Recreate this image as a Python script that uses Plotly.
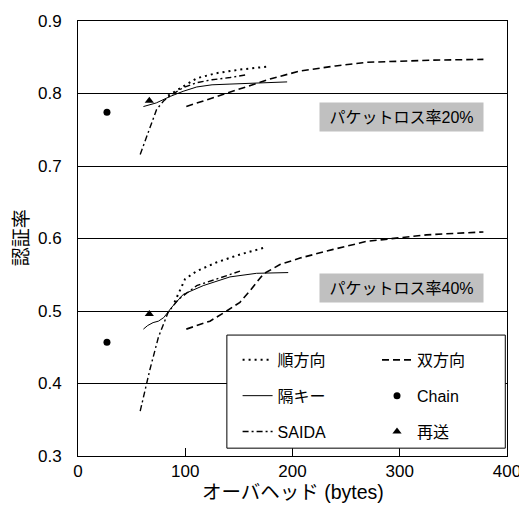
import plotly.graph_objects as go

# ---- data ----
jun20_x = [84, 95, 110.7, 129, 151, 176]
jun20_y = [0.797, 0.807, 0.821, 0.828, 0.833, 0.837]
jun40_x = [90, 95, 99.8, 110.7, 129, 151, 173]
jun40_y = [0.512, 0.528, 0.544, 0.555, 0.567, 0.578, 0.587]

sou20_x = [101, 126, 154, 179, 207, 240, 269, 300, 330, 378]
sou20_y = [0.782, 0.794, 0.807, 0.820, 0.831, 0.838, 0.843, 0.845, 0.846, 0.847]
sou40_x = [101, 123, 138.6, 151, 160.4, 172.8, 188.3, 207, 238, 269, 300, 325, 350, 378]
sou40_y = [0.475, 0.486, 0.500, 0.512, 0.528, 0.551, 0.564, 0.573, 0.585, 0.596, 0.601, 0.605, 0.607, 0.609]

kaku20_x = [61, 73, 86, 98, 110.7, 125, 141.7, 170, 195]
kaku20_y = [0.782, 0.787, 0.796, 0.803, 0.809, 0.812, 0.813, 0.815, 0.816]
kaku40_x = [61, 65, 70, 75, 80, 87.3, 98.2, 116.8, 141.7, 166.5, 196]
kaku40_y = [0.475, 0.480, 0.484, 0.486, 0.491, 0.505, 0.523, 0.535, 0.547, 0.552, 0.553]

saida20_x = [58, 65.6, 73.3, 80, 86, 98, 110.7, 125, 141.7, 158]
saida20_y = [0.716, 0.748, 0.778, 0.790, 0.797, 0.808, 0.815, 0.819, 0.822, 0.826]
saida40_x = [58, 67, 75, 84, 93.5, 110.7, 129, 151]
saida40_y = [0.362, 0.419, 0.464, 0.498, 0.516, 0.535, 0.544, 0.555]

chain_x = [27, 27]
chain_y = [0.774, 0.457]
resend_x = [66.5, 66.5]
resend_y = [0.790, 0.496]

x_ticks = [0, 100, 200, 300, 400]
y_ticks = [0.3, 0.4, 0.5, 0.6, 0.7, 0.8, 0.9]
labels = ["パケットロス率20%", "パケットロス率40%"]
x_title = "オーバヘッド (bytes)"
y_title = "認証率"

FONT = "Liberation Sans, Arial, Noto Sans CJK JP"


def join(a, b):
    return list(a) + [None] + list(b)


fig = go.Figure()
fig.add_trace(go.Scatter(x=join(jun20_x, jun40_x), y=join(jun20_y, jun40_y), mode="lines",
                         name="順方向", legend="legend", legendgroup="a",
                         line=dict(color="black", width=2, dash="2px,4px")))
fig.add_trace(go.Scatter(x=join(sou20_x, sou40_x), y=join(sou20_y, sou40_y), mode="lines",
                         name="双方向", legend="legend2", legendgroup="b",
                         line=dict(color="black", width=1.6, dash="7px,4px")))
fig.add_trace(go.Scatter(x=join(kaku20_x, kaku40_x), y=join(kaku20_y, kaku40_y), mode="lines",
                         name="隔キー", legend="legend", legendgroup="c",
                         line=dict(color="black", width=1)))
fig.add_trace(go.Scatter(x=chain_x, y=chain_y, mode="markers", name="Chain", legend="legend2",
                         legendgroup="d",
                         marker=dict(color="black", size=7, symbol="circle")))
fig.add_trace(go.Scatter(x=join(saida20_x, saida40_x), y=join(saida20_y, saida40_y), mode="lines",
                         name="SAIDA", legend="legend", legendgroup="e",
                         line=dict(color="black", width=1.4, dash="6px,3px,2px,3px")))
fig.add_trace(go.Scatter(x=resend_x, y=resend_y, mode="markers", name="再送", legend="legend2",
                         legendgroup="f",
                         marker=dict(color="black", size=8, symbol="triangle-up")))

leg_common = dict(orientation="v", xanchor="left", yanchor="middle", y=0.138,
                  bgcolor="rgba(0,0,0,0)", borderwidth=0,
                  font=dict(family=FONT, size=16, color="black"),
                  itemwidth=30, traceorder="grouped", tracegroupgap=12)

fig.update_layout(
    width=519, height=505,
    margin=dict(l=70, r=20, t=13, b=57),
    paper_bgcolor="white", plot_bgcolor="white",
    font=dict(family=FONT, size=17, color="black"),
    showlegend=True,
    legend=dict(leg_common, x=0.372),
    legend2=dict(leg_common, x=0.697),
    xaxis=dict(range=[0, 400], tickvals=x_ticks, ticks="inside", ticklen=8, tickcolor="black",
               showline=True, linecolor="black", linewidth=1, mirror=True, showgrid=False,
               zeroline=False, tickfont=dict(size=17), automargin=False),
    yaxis=dict(range=[0.3, 0.9], tickvals=y_ticks, tickformat=".1f", ticks="inside", ticklen=5,
               tickcolor="black", showline=True, linecolor="black", linewidth=1, mirror=True,
               showgrid=True, gridcolor="black", gridwidth=1, zeroline=False,
               tickfont=dict(size=17), ticklabelstandoff=12, automargin=False),
    shapes=[dict(type="rect", xref="paper", yref="paper", x0=0.347, x1=0.996, y0=0.018, y1=0.278,
                 line=dict(color="black", width=1), fillcolor="white", layer="above")],
    annotations=[
        dict(text=labels[0], xref="paper", yref="paper", x=0.754, y=0.780, showarrow=False,
             xanchor="center", yanchor="middle",
             bgcolor="#c0c0c0", width=157, height=22, borderpad=3, font=dict(size=16)),
        dict(text=labels[1], xref="paper", yref="paper", x=0.754, y=0.387, showarrow=False,
             xanchor="center", yanchor="middle",
             bgcolor="#c0c0c0", width=157, height=22, borderpad=3, font=dict(size=16)),
        dict(text=x_title, xref="paper", yref="paper", x=0.5, y=-0.083, showarrow=False,
             xanchor="center", yanchor="middle", font=dict(size=19.5)),
        dict(text=y_title, xref="paper", yref="paper", x=-0.133, y=0.503, showarrow=False,
             xanchor="center", yanchor="middle", textangle=-90, font=dict(size=19)),
    ],
)

fig.write_html("out.html")
